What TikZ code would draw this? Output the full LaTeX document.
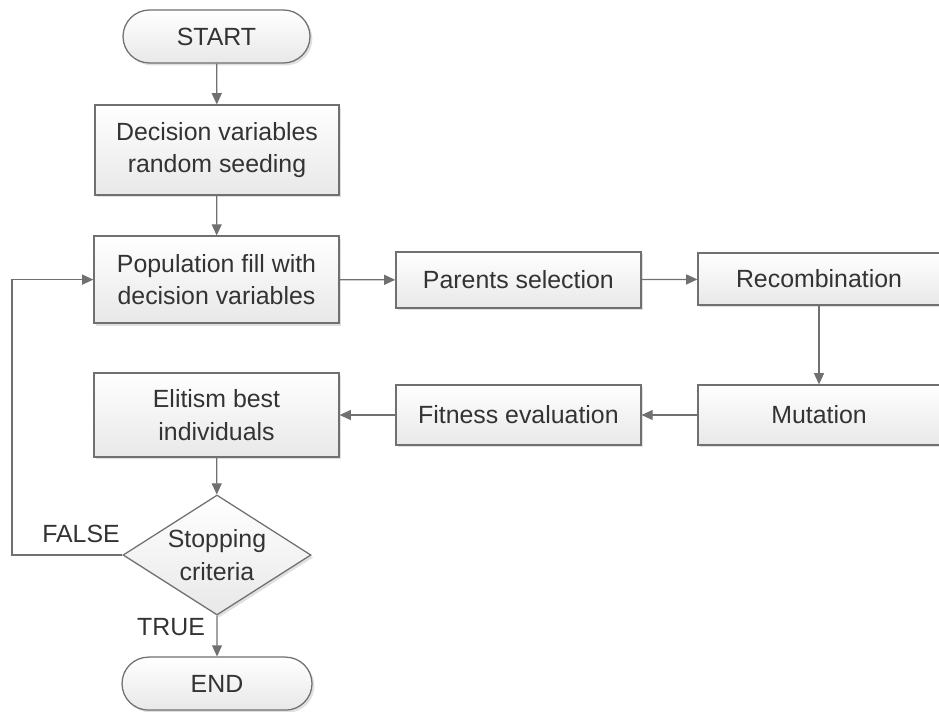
\documentclass[tikz,border=0pt]{standalone}
\usepackage{fontspec}
\setmainfont{Liberation Sans}
\usetikzlibrary{arrows.meta,shapes.misc,shapes.geometric,shadows}

\definecolor{linegray}{HTML}{707070}
\definecolor{textgray}{HTML}{333333}

\begin{document}
\begin{tikzpicture}[
    font=\fontsize{17.7}{23}\selectfont, text=textgray,
    box/.style={draw=linegray, line width=0.9pt, top color=white, bottom color=black!9,
        drop shadow={shadow xshift=0.06cm, shadow yshift=-0.06cm, fill=black!12, opacity=1},
        align=center, inner sep=0pt},
    terminal/.style={box, rounded rectangle},
    decision/.style={box, diamond, aspect=1.57},
    arr/.style={draw=linegray, line width=0.9pt, -{Triangle[length=0.28cm, width=0.25cm]}},
    lbl/.style={inner sep=1pt}
  ]
    \useasboundingbox (0,0) rectangle (23.475,-17.775);

    \node[terminal, minimum width=4.675cm, minimum height=1.325cm] (start) at (5.4125, -0.9125) {START};
    \node[box, minimum width=6.1cm, minimum height=2.25cm] (seed) at (5.425, -3.75) {Decision variables\\random seeding};
    \node[box, minimum width=6.125cm, minimum height=2.175cm] (pop) at (5.4125, -6.99) {Population fill with\\decision variables};
    \node[box, minimum width=6.125cm, minimum height=1.4cm] (parents) at (12.96, -7.0) {Parents selection};
    \node[box, minimum width=6.05cm, minimum height=1.3cm] (recomb) at (20.475, -6.975) {Recombination};
    \node[box, minimum width=6.05cm, minimum height=1.5cm] (mut) at (20.475, -10.375) {Mutation};
    \node[box, minimum width=6.125cm, minimum height=1.5cm] (fit) at (12.96, -10.375) {Fitness evaluation};
    \node[box, minimum width=6.125cm, minimum height=2.1cm] (elite) at (5.4125, -10.375) {Elitism best\\individuals};
    \node[decision, minimum width=4.7cm, minimum height=3.0cm] (stop) at (5.425, -13.875) {Stopping\\criteria};
    \node[terminal, minimum width=4.75cm, minimum height=1.325cm] (finish) at (5.425, -17.09) {END};

    \node[lbl] (false) at (2.025, -13.35) {FALSE};
    \node[lbl] (true) at (4.275, -15.675) {TRUE};
    \coordinate (loop) at (0.3, -13.875);

    %%%%%%%%%%%%%%%%%%%%%%%%%%%%%%%%%%%%%%%%

    \draw[arr] (start) -- (seed);
    \draw[arr] (seed) -- (pop);
    \draw[arr] (pop) -- (parents);
    \draw[arr] (parents) -- (recomb);
    \draw[arr] (recomb) -- (mut);
    \draw[arr] (mut) -- (fit);
    \draw[arr] (fit) -- (elite);
    \draw[arr] (elite) -- (stop);
    \draw[arr] (stop) -- (finish);
    \draw[arr] (stop.west) -- (loop) |- (pop.west);

\end{tikzpicture}
\end{document}
